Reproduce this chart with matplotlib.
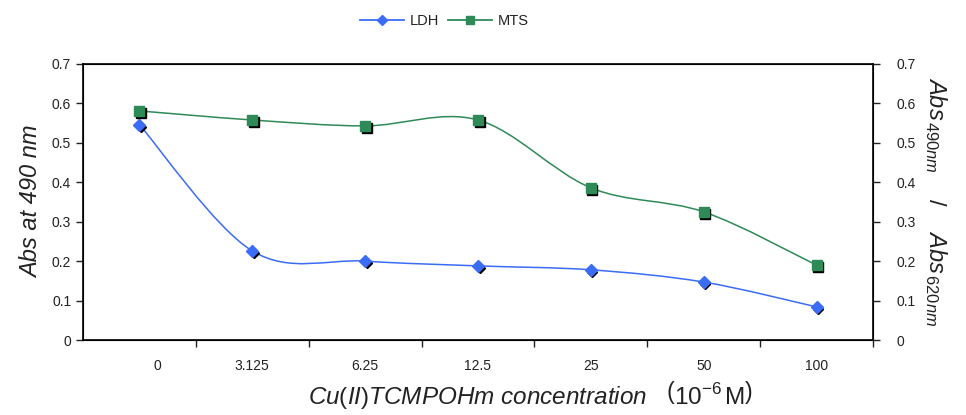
import numpy as np
import matplotlib
matplotlib.use('Agg')
import matplotlib.pyplot as plt
from matplotlib.path import Path
from matplotlib.patches import PathPatch
from matplotlib.lines import Line2D
import matplotlib.transforms as mtransforms

plt.rcParams['font.family'] = ['Liberation Sans', 'DejaVu Sans']
plt.rcParams['mathtext.fontset'] = 'custom'
plt.rcParams['mathtext.rm'] = 'Liberation Sans'
plt.rcParams['mathtext.it'] = 'Liberation Sans:italic'

concentrations = ['0', '3.125', '6.25', '12.5', '25', '50', '100']
ldh = [0.546, 0.226, 0.200, 0.188, 0.178, 0.147, 0.084]
mts = [0.581, 0.558, 0.543, 0.558, 0.386, 0.325, 0.190]
y_ticks = [0, 0.1, 0.2, 0.3, 0.4, 0.5, 0.6, 0.7]

ldh_color = '#3b6cf5'
mts_color = '#2e8b57'
text_color = '#222222'


def smooth_path(x, y, t=1/6):
    # excel style smoothed line: bezier through the points
    x = np.asarray(x, float)
    y = np.asarray(y, float)
    n = len(x)
    verts = [(x[0], y[0])]
    codes = [Path.MOVETO]
    for i in range(n - 1):
        x0, y0 = (x[i - 1], y[i - 1]) if i > 0 else (x[i], y[i])
        x3, y3 = (x[i + 2], y[i + 2]) if i + 2 < n else (x[i + 1], y[i + 1])
        c1 = (x[i] + (x[i + 1] - x0) * t, y[i] + (y[i + 1] - y0) * t)
        c2 = (x[i + 1] - (x3 - x[i]) * t, y[i + 1] - (y3 - y[i]) * t)
        verts += [c1, c2, (x[i + 1], y[i + 1])]
        codes += [Path.CURVE4] * 3
    return Path(verts, codes)


fig = plt.figure(figsize=(9.66, 4.15), dpi=100)
ax = fig.add_axes([0.0859, 0.1807, 0.8178, 0.6651])

xpos = np.arange(len(concentrations))
for vals, col, mk, ms in [(ldh, ldh_color, 'D', 6), (mts, mts_color, 's', 7)]:
    ax.add_patch(PathPatch(smooth_path(xpos, vals), fill=False, edgecolor=col, lw=1.1))
    shadow = mtransforms.offset_copy(ax.transData, fig=fig, x=1.2, y=-1.6, units='points')
    ax.plot(xpos, vals, ls='none', marker=mk, ms=ms - 0.5, color='black', transform=shadow)
    ax.plot(xpos, vals, ls='none', marker=mk, ms=ms, color=col, mec=col)

ax.set_xlim(-0.5, len(concentrations) - 0.5)
ax.set_ylim(0, 0.7)
ax.set_yticks(y_ticks)
ax.set_yticklabels([f'{v:g}' for v in y_ticks], fontsize=10)
ax.set_xticks(xpos + 0.5, minor=False)
ax.set_xticklabels([])
ax.set_xticks(xpos, minor=True)
ax.set_xticklabels(concentrations, minor=True, fontsize=10)
ax.tick_params(axis='x', which='minor', length=0, pad=14)
ax.tick_params(axis='both', which='major', direction='out', length=5, width=1)
ax.tick_params(colors=text_color, which='both')
# the first category label sits a bit to the right in the original
ax.get_xticklabels(minor=True)[0].set_transform(
    ax.get_xticklabels(minor=True)[0].get_transform()
    + mtransforms.ScaledTranslation(0.18, 0, fig.dpi_scale_trans))
for s in ax.spines.values():
    s.set_linewidth(1.2)

ax2 = ax.twinx()
ax2.set_ylim(0, 0.7)
ax2.set_yticks(y_ticks)
ax2.set_yticklabels([f'{v:g}' for v in y_ticks], fontsize=10)
ax2.tick_params(axis='y', direction='out', length=5, width=1, pad=12, colors=text_color)

ax.set_ylabel('Abs at 490 nm', fontsize=17, style='italic', labelpad=6, color=text_color)
ax2.set_ylabel(r'$\mathit{Abs}_{\,490nm}$    /    $\mathit{Abs}_{\,620nm}$', fontsize=17,
               rotation=270, labelpad=24, color=text_color)
ax.set_xlabel(r'$\mathit{Cu(II)TCMPOHm\ concentration}$   $\left(10^{-6}\,\mathrm{M}\right)$',
              fontsize=17.5, labelpad=2, color=text_color)
ax.xaxis.set_label_coords(0.566, -0.14)

handles = [Line2D([], [], color=ldh_color, marker='D', ms=5, lw=1.3),
           Line2D([], [], color=mts_color, marker='s', ms=6, lw=1.3)]
fig.legend(handles, ['LDH', 'MTS'], loc='center', bbox_to_anchor=(0.46, 0.95), ncol=2,
           frameon=False, fontsize=10.5, handlelength=3, columnspacing=0.6,
           handletextpad=0.4, labelcolor=text_color)

fig.savefig('out.png', dpi=100)
